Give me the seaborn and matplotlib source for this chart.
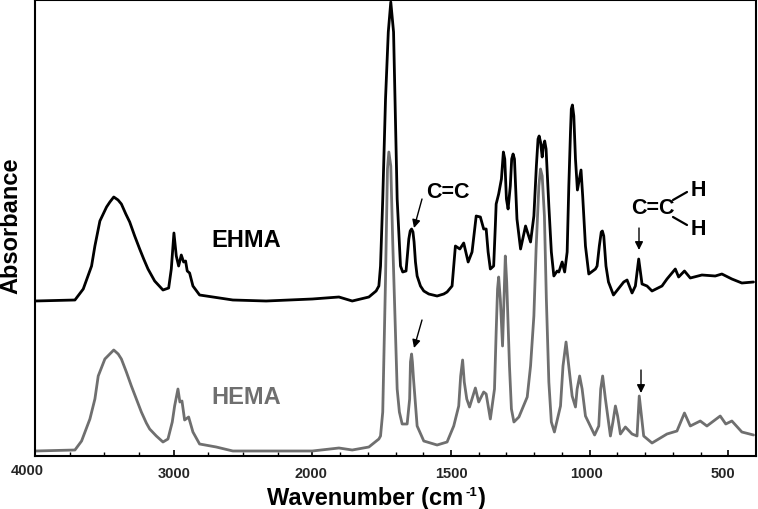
# FTIR spectra of EHMA and HEMA
import numpy as np
import matplotlib
matplotlib.use('Agg')
import matplotlib.pyplot as plt
from matplotlib.transforms import ScaledTranslation
import seaborn as sns

# values, absorbance in arbitrary units
ehma_wn = [4000, 3712, 3652, 3592, 3568, 3532, 3484, 3460, 3432, 3401, 3377, 3345, 3317, 3281, 3245, 3216,
           3185, 3137, 3077, 3036, 3017, 2998, 2981, 2964, 2945, 2928, 2914, 2902, 2885, 2861, 2813, 2765,
           2573, 2333, 2000, 1904, 1856, 1796, 1770, 1760, 1754, 1746, 1736, 1726, 1717, 1707, 1702, 1694,
           1682, 1674, 1662, 1652, 1647, 1642, 1637, 1633, 1628, 1622, 1610, 1598, 1580, 1550, 1526, 1514,
           1496, 1484, 1468, 1454, 1438, 1424, 1409, 1394, 1382, 1373, 1366, 1358, 1346, 1340, 1337, 1328,
           1318, 1311, 1306, 1300, 1294, 1286, 1281, 1276, 1271, 1262, 1249, 1231, 1213, 1201, 1192, 1186,
           1182, 1177, 1171, 1167, 1162, 1157, 1147, 1138, 1129, 1117, 1111, 1099, 1090, 1081, 1075, 1069,
           1066, 1062, 1057, 1051, 1044, 1037, 1031, 1025, 1015, 1003, 979, 973, 965, 958, 954, 949,
           941, 932, 914, 877, 865, 847, 835, 823, 811, 793, 775, 739, 721, 691, 679, 658,
           637, 595, 547, 523, 487, 451, 409]
ehma_abs = [155, 156, 167, 190, 210, 235, 249, 254, 259, 256, 252, 242, 234, 220, 207, 197,
            187, 175, 166, 168, 187, 223, 200, 190, 201, 194, 195, 185, 183, 170, 161, 160,
            156, 155, 157, 159, 155, 159, 165, 170, 190, 257, 357, 424, 454, 424, 357, 257,
            190, 184, 185, 217, 225, 227, 224, 214, 194, 180, 170, 165, 162, 160, 162, 164,
            170, 210, 207, 213, 194, 204, 240, 239, 227, 227, 204, 187, 190, 230, 252, 262,
            277, 304, 297, 257, 247, 270, 297, 302, 297, 237, 207, 230, 214, 240, 290, 317,
            320, 314, 299, 310, 315, 307, 250, 204, 180, 185, 184, 194, 184, 204, 270, 324,
            347, 351, 340, 297, 266, 277, 286, 260, 210, 182, 187, 190, 210, 224, 225, 220,
            190, 174, 161, 174, 176, 163, 170, 197, 172, 170, 165, 170, 177, 187, 179, 185,
            178, 181, 180, 182, 177, 173, 174]

hema_wn = [4000, 3712, 3664, 3604, 3568, 3544, 3496, 3460, 3432, 3400, 3377, 3341, 3305, 3269, 3233, 3197,
           3173, 3125, 3077, 3041, 3010, 2993, 2969, 2955, 2940, 2921, 2892, 2861, 2813, 2693, 2573, 2333,
           2000, 1904, 1856, 1796, 1760, 1754, 1746, 1736, 1729, 1724, 1717, 1710, 1702, 1694, 1686, 1676,
           1658, 1649, 1646, 1642, 1639, 1635, 1622, 1598, 1550, 1514, 1490, 1472, 1465, 1458, 1452, 1443,
           1433, 1412, 1400, 1382, 1373, 1358, 1343, 1337, 1332, 1328, 1322, 1314, 1308, 1304, 1299, 1289,
           1282, 1273, 1255, 1225, 1213, 1201, 1193, 1183, 1177, 1171, 1163, 1156, 1147, 1138, 1127, 1105,
           1096, 1085, 1075, 1063, 1051, 1045, 1036, 1027, 1015, 982, 967, 960, 953, 943, 925, 916,
           907, 899, 889, 871, 847, 829, 821, 805, 775, 721, 685, 658, 637, 601, 577, 529,
           509, 487, 451, 409]
hema_abs = [5, 6, 15, 37, 57, 80, 97, 102, 106, 102, 97, 84, 70, 57, 44, 33,
            27, 20, 14, 17, 34, 50, 67, 54, 55, 36, 39, 24, 12, 9, 5, 5,
            5, 8, 6, 9, 17, 20, 44, 177, 287, 304, 290, 214, 140, 67, 44, 32,
            32, 57, 94, 102, 94, 77, 30, 15, 11, 14, 30, 50, 80, 96, 74, 57,
            49, 68, 54, 64, 62, 37, 67, 124, 167, 179, 157, 110, 164, 200, 174, 90,
            47, 34, 39, 59, 90, 140, 207, 270, 287, 280, 240, 157, 74, 34, 24, 50,
            90, 114, 90, 60, 49, 67, 80, 67, 40, 21, 30, 67, 80, 57, 20, 34,
            50, 40, 22, 29, 22, 20, 60, 20, 13, 22, 25, 43, 30, 35, 30, 40,
            32, 35, 24, 21]

major_ticks = [4000, 3000, 2000, 1500, 1000, 500]
minor_ticks = [3750, 3500, 3250, 2750, 2500, 2250, 1900, 1800, 1700, 1600,
               1400, 1300, 1200, 1100, 900, 800, 700, 600]
# the original labels sit a few pixels off their ticks
label_shift_x = [-8, 0, -1, 0, -3, -5]
label_shift_y = [3, 0, 0, 0, 0, 0]

sns.set_theme(style='ticks')
plt.rcParams['font.family'] = ['Liberation Sans', 'DejaVu Sans']

GREY = '#6f6f6f'


# wavenumber axis is stretched by two below 2000
def forward(x):
    x = np.asarray(x, dtype=float)
    return np.where(x >= 2000, x + 2000, 2 * x)


def inverse(v):
    v = np.asarray(v, dtype=float)
    return np.where(v >= 4000, v - 2000, v / 2)


fig = plt.figure(figsize=(7.58, 5.10), dpi=100)
ax = fig.add_axes([35 / 758, 1 - 457 / 510, 721 / 758, 456 / 510])

sns.lineplot(x=ehma_wn, y=ehma_abs, color='black', lw=2.0, ax=ax, errorbar=None, estimator=None)
sns.lineplot(x=hema_wn, y=hema_abs, color=GREY, lw=2.0, ax=ax, errorbar=None, estimator=None)
for line in ax.get_lines():
    line.set_solid_joinstyle('round')

ax.set_xscale('function', functions=(forward, inverse))
ax.set_xlim(4000, 400)
ax.set_ylim(0, 456)
ax.set_yticks([])
ax.set_xticks(major_ticks)
ax.set_xticks(minor_ticks, minor=True)
ax.set_xticklabels([str(t) for t in major_ticks], fontsize=10.5, fontweight='bold')
ax.tick_params(axis='x', which='major', direction='in', length=4.5, width=1.2, color='black', pad=7)
ax.tick_params(axis='x', which='minor', direction='in', length=3, width=1.0, color='black')
for spine in ax.spines.values():
    spine.set_visible(True)
    spine.set_linewidth(1.5)
    spine.set_color('black')

for lab, dx, dy in zip(ax.get_xticklabels(), label_shift_x, label_shift_y):
    lab.set_transform(lab.get_transform() + ScaledTranslation(dx / 100, dy / 100, fig.dpi_scale_trans))


def px(x, y):
    return (x, 510 - y)


# small superscript, so the label is three pieces
fig.text(267 / 758, 1 - 505 / 510, 'Wavenumber (cm', fontsize=17, fontweight='bold', ha='left', va='baseline', color='black')
fig.text(465 / 758, 1 - 496 / 510, '-1', fontsize=9.5, fontweight='bold', ha='left', va='baseline', color='black')
fig.text(478 / 758, 1 - 505 / 510, ')', fontsize=17, fontweight='bold', ha='left', va='baseline', color='black')
fig.text(10.5 / 758, 1 - 226 / 510, 'Absorbance', fontsize=17, fontweight='bold', rotation=90,
         ha='center', va='center', color='black')

fig.text(246.5 / 758, 1 - 241 / 510, 'EHMA', fontsize=17, fontweight='bold', ha='center', va='center', color='black')
fig.text(246.5 / 758, 1 - 398 / 510, 'HEMA', fontsize=17, fontweight='bold', ha='center', va='center', color=GREY)
fig.text(448 / 758, 1 - 192 / 510, 'C=C', fontsize=15.5, fontweight='bold', ha='center', va='center', color='black')
fig.text(653 / 758, 1 - 209 / 510, 'C=C', fontsize=15.5, fontweight='bold', ha='center', va='center', color='black')
fig.text(698 / 758, 1 - 190 / 510, 'H', fontsize=15.5, fontweight='bold', ha='center', va='center', color='black')
fig.text(698 / 758, 1 - 230 / 510, 'H', fontsize=15.5, fontweight='bold', ha='center', va='center', color='black')

# arrows at the C=C bands
arrows = [((422, 200), (414, 229)), ((422, 321), (414, 349)), ((639, 229), (639, 251)), ((641, 371), (641, 394))]
for start, end in arrows:
    ax.annotate('', xy=px(*end), xytext=px(*start), xycoords='figure pixels', textcoords='figure pixels',
                arrowprops=dict(arrowstyle='-|>,head_width=0.2,head_length=0.4', color='black', lw=1.0,
                                shrinkA=0, shrinkB=0))

# bonds to the two H
for start, end in [((673, 201), (687, 193)), ((673, 218), (687, 226))]:
    ax.annotate('', xy=px(*end), xytext=px(*start), xycoords='figure pixels', textcoords='figure pixels',
                arrowprops=dict(arrowstyle='-', color='black', lw=1.6, shrinkA=0, shrinkB=0))

fig.savefig('out.png', dpi=100)
